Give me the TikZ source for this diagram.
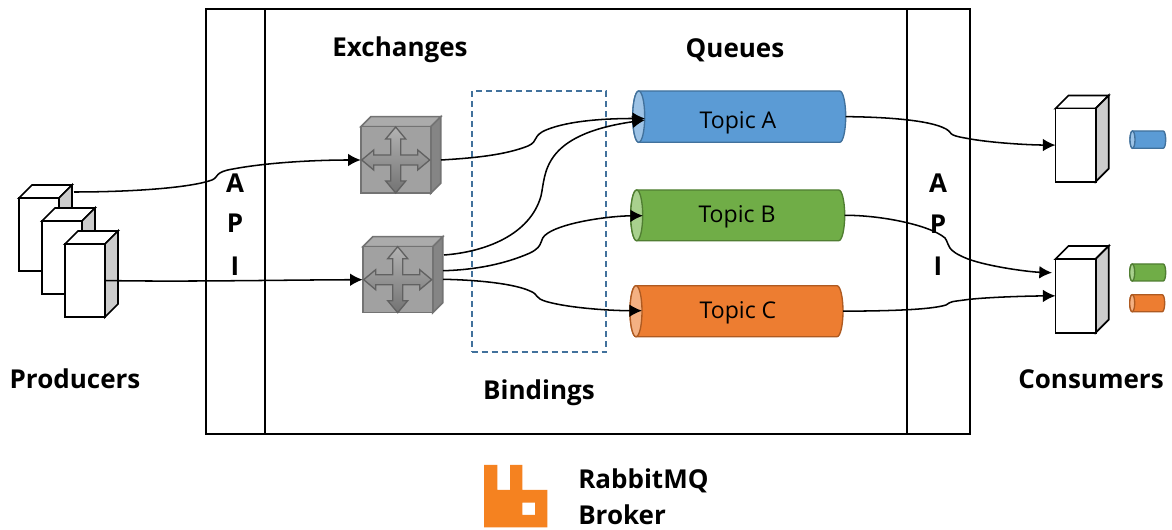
\documentclass[tikz,border=0pt]{standalone}
\usepackage{fontspec}
\setmainfont{Open Sans}
\usetikzlibrary{arrows.meta,fit,calc}
\definecolor{qblue}{HTML}{5B9BD5}\definecolor{qblueL}{HTML}{41719C}\definecolor{qblueT}{HTML}{9DC3E6}
\definecolor{qgreen}{HTML}{70AD47}\definecolor{qgreenL}{HTML}{507E32}\definecolor{qgreenT}{HTML}{A9D18E}
\definecolor{qorange}{HTML}{ED7D31}\definecolor{qorangeL}{HTML}{AE5A21}\definecolor{qorangeT}{HTML}{F4B183}
\definecolor{rabbit}{HTML}{F58220}
\tikzset{
  lbl/.style={font=\fontsize{19.5}{22}\selectfont\bfseries,inner sep=0pt},
  topic/.style={font=\fontsize{17.3}{20}\selectfont,inner sep=0pt},
  frameline/.style={draw=black,line width=1.25pt},
  hostbox/.style={draw=black,line width=1.3pt,line join=miter},
  exbox/.style={draw=black!55,line width=1.2pt,line join=miter},
  conn/.style={draw=black,line width=1.15pt,-{Latex[length=9.5pt,width=9.5pt]}},
  crossarrow/.style={draw=black!62,line width=1pt,line join=miter}
}
% cuboid: front colour, x1,y1,x2,y2, depth, side, top, style
\newcommand\cuboid[9]{%
  \path[#9,fill=#8] (#2,#3) -- ++(#6,-#6) -- (#4+#6,#3-#6) -- (#4,#3) -- cycle;
  \path[#9,fill=#7] (#4,#3) -- (#4+#6,#3-#6) -- (#4+#6,#5-#6) -- (#4,#5) -- cycle;
  \node[fit={(#2,#3)(#4,#5)},inner sep=0pt,outer sep=0pt,#9,fill=#1] {};
}
\newcommand\host[5]{\cuboid{white}{#2}{#3}{#4}{#5}{13}{black!20}{white}{hostbox}
  \node[fit={(#2,#3)(#4,#5)},inner sep=0pt,outer sep=0pt] (#1) {};}
\newcommand\exch[5]{\cuboid{black!37}{#2}{#3}{#4}{#5}{10}{black!48}{black!33}{exbox}
  \node[fit={(#2,#3)(#4,#5)},inner sep=0pt,outer sep=0pt] (#1) {};
  \begin{scope}[shift={($(#1.center)$)}]
  \path[crossarrow,top color=black!30,bottom color=black!55] (-5,-5) -- (-5,-21) -- (-10,-21) -- (0,-33) -- (10,-21) -- (5,-21) -- (5,-5)
     -- (22,-5) -- (22,-10) -- (34,0) -- (22,10) -- (22,5) -- (5,5)
     -- (5,21) -- (10,21) -- (0,33) -- (-10,21) -- (-5,21) -- (-5,5)
     -- (-22,5) -- (-22,10) -- (-34,0) -- (-22,-10) -- (-22,-5) -- cycle;
  \end{scope}}
% cylinder: name,x1,y1,x2,y2,r,fill,line,light
\newcommand\cyl[9]{%
  \pgfmathsetmacro\cylh{(#5-#3)/2*0.75}\pgfmathsetmacro\cylr{#6*0.75}%
  \pgfmathsetmacro\cylxl{#2+#6}\pgfmathsetmacro\cylxr{#4-#6}\pgfmathsetmacro\cylym{(#3+#5)/2}%
  \path[draw=#8,fill=#7,line width=1pt] (\cylxl,#3) -- (\cylxr,#3)
    arc[start angle=90,end angle=-90,x radius=\cylr pt,y radius=\cylh pt]
    -- (\cylxl,#5) arc[start angle=270,end angle=90,x radius=\cylr pt,y radius=\cylh pt] -- cycle;
  \path[draw=#8,fill=#9,line width=1pt] (\cylxl,\cylym) ellipse[x radius=\cylr pt,y radius=\cylh pt];
  \node[fit={(#2,#3)(#4,#5)},inner sep=0pt,outer sep=0pt] (#1) {};
}
\begin{document}
\begin{tikzpicture}[x=0.75pt,y=-0.75pt]
\useasboundingbox (0,0) rectangle (1172,530);
\fill[white] (0,0) rectangle (1172,530);
% broker frame
\node[fit={(206,9)(970,434)},inner sep=0pt,outer sep=0pt,frameline] (broker) {};
\coordinate (apiLt) at (264.9,9);\coordinate (apiLb) at (264.9,434);
\coordinate (apiRt) at (907,9);\coordinate (apiRb) at (907,434);
\draw[frameline] (apiLt) -- (apiLb);
\draw[frameline] (apiRt) -- (apiRb);
% bindings box
\node[fit={(471.7,91.3)(606.3,352)},inner sep=0pt,outer sep=0pt,draw=qblueL,line width=1.25pt,dash pattern=on 4.5pt off 3pt] (bindbox) {};
% hosts
\host{p1}{19}{198}{59}{271}
\host{p2}{42}{221}{82}{294}
\host{p3}{65}{244}{105}{317}
\host{c1}{1055.5}{108.5}{1095.7}{181.7}
\host{c2}{1055.5}{259}{1095.7}{332.7}
% exchanges
\exch{ex1}{360.7}{126.7}{430.7}{193.3}
\exch{ex2}{362.7}{246.7}{432.7}{312.7}
% queues
\cyl{qa}{632.7}{91}{845.7}{142.3}{6}{qblue}{qblueL}{qblueT}
\cyl{qb}{630.7}{190}{844.7}{240.7}{6}{qgreen}{qgreenL}{qgreenT}
\cyl{qc}{630}{285.7}{843}{336.7}{6}{qorange}{qorangeL}{qorangeT}
\cyl{sa}{1130}{131}{1165.7}{148.3}{2.5}{qblue}{qblueL}{qblueT}
\cyl{sb}{1129.7}{264}{1165.7}{281}{2.5}{qgreen}{qgreenL}{qgreenT}
\cyl{sc}{1129.7}{294.7}{1164.7}{311.7}{2.5}{qorange}{qorangeL}{qorangeT}
\node[topic] (ta) at (738,122.5) {Topic A};
\node[topic] (tb) at (737,216.5) {Topic B};
\node[topic] (tc) at (738,312.5) {Topic C};
% connector ends
\coordinate (p1out) at (74,192);
\coordinate (e1out) at (441,160);
\coordinate (e2a) at (444,255);
\coordinate (e2b) at (443,270.7);
\coordinate (e2c) at (443,279.3);
\coordinate (qa1) at (645,118.5);
\coordinate (qa2) at (645,120);
\coordinate (qbin) at (643,215.7);
\coordinate (qcin) at (642,310.7);
\coordinate (c2b) at (1052,272.7);
% API labels
\node[lbl] (la1) at (235,183) {A};
\node[lbl] (la2) at (235,223) {P};
\node[lbl] (la3) at (235,266) {I};
\node[lbl] (ra1) at (938,183) {A};
\node[lbl] (ra2) at (938,224) {P};
\node[lbl] (ra3) at (938,266) {I};
% connectors
\draw[conn] (p1out) .. controls (130,192) and (190,188) .. (212,180)
   .. controls (219,177) and (214,172) .. (233,169)
   .. controls (270,162) and (320,160) .. (ex1.west);
\draw[conn] (p3.east) .. controls (180,282) and (280,280) .. (ex2.west);
\draw[conn] (e1out) .. controls (475,158) and (505,155) .. (528,146)
   .. controls (539,141) and (532,136) .. (546,130)
   .. controls (570,120) and (610,118.5) .. (qa1);
\draw[conn] (e2a) .. controls (485,252) and (530,235) .. (541,196)
   .. controls (546,175) and (540,135) .. (qa2);
\draw[conn] (e2b) .. controls (475,270) and (505,264) .. (530,253)
   .. controls (546,245) and (537,240) .. (548,233)
   .. controls (565,222) and (610,216) .. (qbin);
\draw[conn] (e2c) .. controls (480,280) and (515,284) .. (530,291)
   .. controls (540,295) and (533,298) .. (548,302)
   .. controls (570,308) and (610,310.7) .. (qcin);
\draw[conn] (qa.east) .. controls (885,117) and (930,120) .. (946,129)
   .. controls (953,133) and (947,135) .. (965,138)
   .. controls (990,143) and (1030,145) .. (c1.west);
\draw[conn] (qb.east) .. controls (880,215) and (930,225) .. (945,238)
   .. controls (950,245) and (945,250) .. (968,259)
   .. controls (990,267) and (1030,272) .. (c2b);
\draw[conn] (qc.east) .. controls (885,311) and (930,310) .. (946,305)
   .. controls (952,301) and (950,302) .. (968,299.5)
   .. controls (990,297) and (1030,296) .. (c2.west);
% labels
\node[lbl] (lex) at (400,49.5) {Exchanges};
\node[lbl] (lqu) at (735,50.5) {Queues};
\node[lbl] (lpr) at (75,379) {Producers};
\node[lbl] (lco) at (1091,379) {Consumers};
\node[lbl] (lbi) at (539,393) {Bindings};
\node[lbl,anchor=west] (lrb) at (578,481) {RabbitMQ};
\node[lbl,anchor=west] (lbr) at (578,514.5) {Broker};
% logo
\path[fill=rabbit,even odd rule] (484,465) -- (497.3,465) -- (497.3,490) -- (510,490) -- (510,465) -- (522.3,465)
  -- (522.3,490) -- (547.3,490) -- (547.3,527.3) -- (484,527.3) -- cycle
  (522.3,502.7) rectangle (535,515);
\end{tikzpicture}
\end{document}
